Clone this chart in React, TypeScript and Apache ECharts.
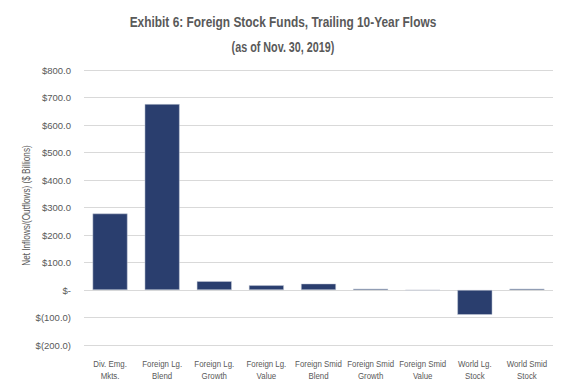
import React, { useEffect, useRef } from "react";
import * as echarts from "echarts";

const categories = [
  ["Div. Emg.", "Mkts."],
  ["Foreign Lg.", "Blend"],
  ["Foreign Lg.", "Growth"],
  ["Foreign Lg.", "Value"],
  ["Foreign Smid", "Blend"],
  ["Foreign Smid", "Growth"],
  ["Foreign Smid", "Value"],
  ["World Lg.", "Stock"],
  ["World Smid", "Stock"],
];
const flows = [278, 676, 32, 17, 23, 5, -1, -90, 5];
const titleLines = ["Exhibit 6: Foreign Stock Funds, Trailing 10-Year Flows", "(as of Nov. 30, 2019)"];
const titleScales = [0.85, 0.77];
const yAxisName = "Net Inflows/(Outflows) ($ Billions)";

const FONT = "'Liberation Sans', Arial, sans-serif";
const GREY = "#595959";

function fmt(v: number): string {
  if (v === 0) return "$-";
  if (v < 0) return "$(" + Math.abs(v).toFixed(1) + ")";
  return "$" + v.toFixed(1);
}

export default function App() {
  const ref = useRef<HTMLDivElement>(null);
  useEffect(() => {
    if (!ref.current) return;
    const chart = echarts.init(ref.current, null, { renderer: "svg" });
    const catKeys = categories.map((c) => c.join(" "));
    chart.setOption({
      animation: false,
      backgroundColor: "#ffffff",
      grid: { left: 84, right: 12, top: 70, bottom: 44, containLabel: false },
      xAxis: {
        type: "category",
        data: catKeys,
        axisLine: { show: false },
        axisTick: { show: false },
        axisLabel: { show: false },
      },
      yAxis: {
        type: "value",
        min: -200,
        max: 800,
        interval: 100,
        axisLine: { show: false },
        axisTick: { show: false },
        splitLine: { lineStyle: { color: "#d9d9d9", width: 1 } },
        axisLabel: {
          margin: 13,
          fontFamily: FONT,
          fontSize: 9.5,
          color: GREY,
          formatter: (v: number) => fmt(v),
        },
      },
      series: [
        {
          type: "bar",
          data: flows,
          barCategoryGap: "33%",
          itemStyle: { color: "#2a3e6e", borderColor: "#c9cfdb", borderWidth: 0.5 },
        },
      ],
    });

    const yBottom = chart.convertToPixel({ yAxisIndex: 0 }, -200) as number;
    const yTop = chart.convertToPixel({ yAxisIndex: 0 }, 800) as number;
    const graphics: any[] = [];
    titleLines.forEach((t, i) => {
      graphics.push({
        type: "text",
        x: 283,
        y: 22.5 + i * 25,
        scaleX: titleScales[i],
        style: {
          text: t,
          fontFamily: FONT,
          fontWeight: "bold",
          fontSize: 14,
          fill: GREY,
          textAlign: "center",
          textVerticalAlign: "middle",
        },
      });
    });
    graphics.push({
      type: "text",
      x: 26,
      y: (yBottom + yTop) / 2 - 2,
      rotation: Math.PI / 2,
      scaleX: 0.78,
      style: {
        text: yAxisName,
        fontFamily: FONT,
        fontSize: 10.5,
        fill: GREY,
        textAlign: "center",
        textVerticalAlign: "middle",
      },
    });
    categories.forEach((lines, i) => {
      const px = chart.convertToPixel({ xAxisIndex: 0 }, catKeys[i]) as number;
      lines.forEach((ln, j) => {
        graphics.push({
          type: "text",
          x: px,
          y: yBottom + 18.5 + j * 12,
          scaleX: 0.83,
          style: {
            text: ln,
            fontFamily: FONT,
            fontSize: 9.5,
            fill: GREY,
            textAlign: "center",
            textVerticalAlign: "middle",
          },
        });
      });
    });
    chart.setOption({ graphic: graphics });
    return () => chart.dispose();
  }, []);
  return (
    <div
      ref={ref}
      style={{ position: "absolute", left: 0, top: 0, width: 565, height: 389 }}
    />
  );
}
